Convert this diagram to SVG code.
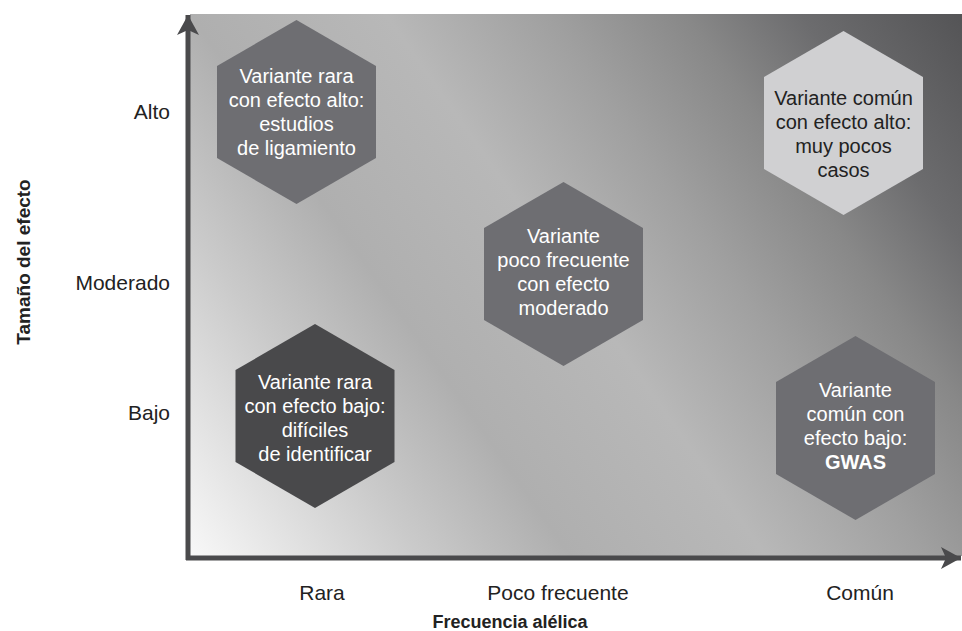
<svg xmlns="http://www.w3.org/2000/svg" width="962" height="631" viewBox="0 0 962 631">
<defs>
  <linearGradient id="bg" gradientUnits="userSpaceOnUse" x1="190" y1="556" x2="962" y2="14">
    <stop offset="0" stop-color="#f8f8f8"/>
    <stop offset="0.2" stop-color="#cacaca"/>
    <stop offset="0.33" stop-color="#afafaf"/>
    <stop offset="0.5" stop-color="#b8b8b8"/>
    <stop offset="0.64" stop-color="#a0a0a0"/>
    <stop offset="0.76" stop-color="#888888"/>
    <stop offset="0.86" stop-color="#6c6c6e"/>
    <stop offset="1" stop-color="#545456"/>
  </linearGradient>
  <marker id="arrow" markerUnits="userSpaceOnUse" markerWidth="24" markerHeight="24" refX="20" refY="11" orient="auto">
    <path d="M0,0 L20,11 L0,22 L5,11 Z" fill="#4a4a4c"/>
  </marker>
  <style>
    .hex { stroke: none; }
    .mid { fill: #6e6e72; }
    .dark { fill: #49494b; }
    .light { fill: #d0d0d2; }
    .ht { font-family: "Liberation Sans", Arial, sans-serif; font-size: 20px; text-anchor: middle; fill: #ffffff; }
    .ht.dk { fill: #222222; }
    .lbl { font-family: "Liberation Sans", Arial, sans-serif; font-size: 21px; fill: #222222; }
    .ttl { font-family: "Liberation Sans", Arial, sans-serif; font-size: 18px; font-weight: bold; fill: #222222; text-anchor: middle; }
    .axis { stroke: #4a4a4c; stroke-width: 5; fill: none; }
  </style>
</defs>

<rect x="190" y="14" width="772" height="542" fill="url(#bg)"/>

<g id="axes">
  <line class="axis" x1="188" y1="560" x2="188" y2="15" marker-end="url(#arrow)"/>
  <line class="axis" x1="186" y1="558" x2="961" y2="558" marker-end="url(#arrow)"/>
</g>

<g id="node-rara-alto">
  <polygon class="hex mid" points="296.5,20 376,66 376,158 296.5,204 217,158 217,66"/>
  <text class="ht" x="296.5"><tspan x="296.5" y="83">Variante rara</tspan><tspan x="296.5" y="107">con efecto alto:</tspan><tspan x="296.5" y="131">estudios</tspan><tspan x="296.5" y="155">de ligamiento</tspan></text>
</g>

<g id="node-comun-alto">
  <polygon class="hex light" points="843.5,31 923,77 923,169 843.5,215 764,169 764,77"/>
  <text class="ht dk" x="843.5"><tspan x="843.5" y="105">Variante común</tspan><tspan x="843.5" y="129">con efecto alto:</tspan><tspan x="843.5" y="153">muy pocos</tspan><tspan x="843.5" y="177">casos</tspan></text>
</g>

<g id="node-poco-moderado">
  <polygon class="hex mid" points="563.5,182 643,228 643,320 563.5,366 484,320 484,228"/>
  <text class="ht" x="563.5"><tspan x="563.5" y="243">Variante</tspan><tspan x="563.5" y="267">poco frecuente</tspan><tspan x="563.5" y="291">con efecto</tspan><tspan x="563.5" y="315">moderado</tspan></text>
</g>

<g id="node-rara-bajo">
  <polygon class="hex dark" points="315,324 394.5,370 394.5,462 315,508 235.5,462 235.5,370"/>
  <text class="ht" x="315"><tspan x="315" y="389">Variante rara</tspan><tspan x="315" y="413">con efecto bajo:</tspan><tspan x="315" y="437">difíciles</tspan><tspan x="315" y="461">de identificar</tspan></text>
</g>

<g id="node-comun-bajo">
  <polygon class="hex mid" points="855.5,336 935,382 935,474 855.5,520 776,474 776,382"/>
  <text class="ht" x="855.5"><tspan x="855.5" y="397">Variante</tspan><tspan x="855.5" y="421">común con</tspan><tspan x="855.5" y="445">efecto bajo:</tspan><tspan x="855.5" y="469" font-weight="bold">GWAS</tspan></text>
</g>

<g id="labels">
  <text class="lbl" x="170" y="119" text-anchor="end">Alto</text>
  <text class="lbl" x="170" y="290" text-anchor="end">Moderado</text>
  <text class="lbl" x="170" y="420" text-anchor="end">Bajo</text>
  <text class="lbl" x="322" y="600" text-anchor="middle">Rara</text>
  <text class="lbl" x="558" y="600" text-anchor="middle">Poco frecuente</text>
  <text class="lbl" x="860" y="600" text-anchor="middle">Común</text>
  <text class="ttl" x="510" y="628">Frecuencia alélica</text>
  <text class="ttl" style="font-size:19px" transform="translate(30,262) rotate(-90)" x="0" y="0">Tamaño del efecto</text>
</g>
</svg>
